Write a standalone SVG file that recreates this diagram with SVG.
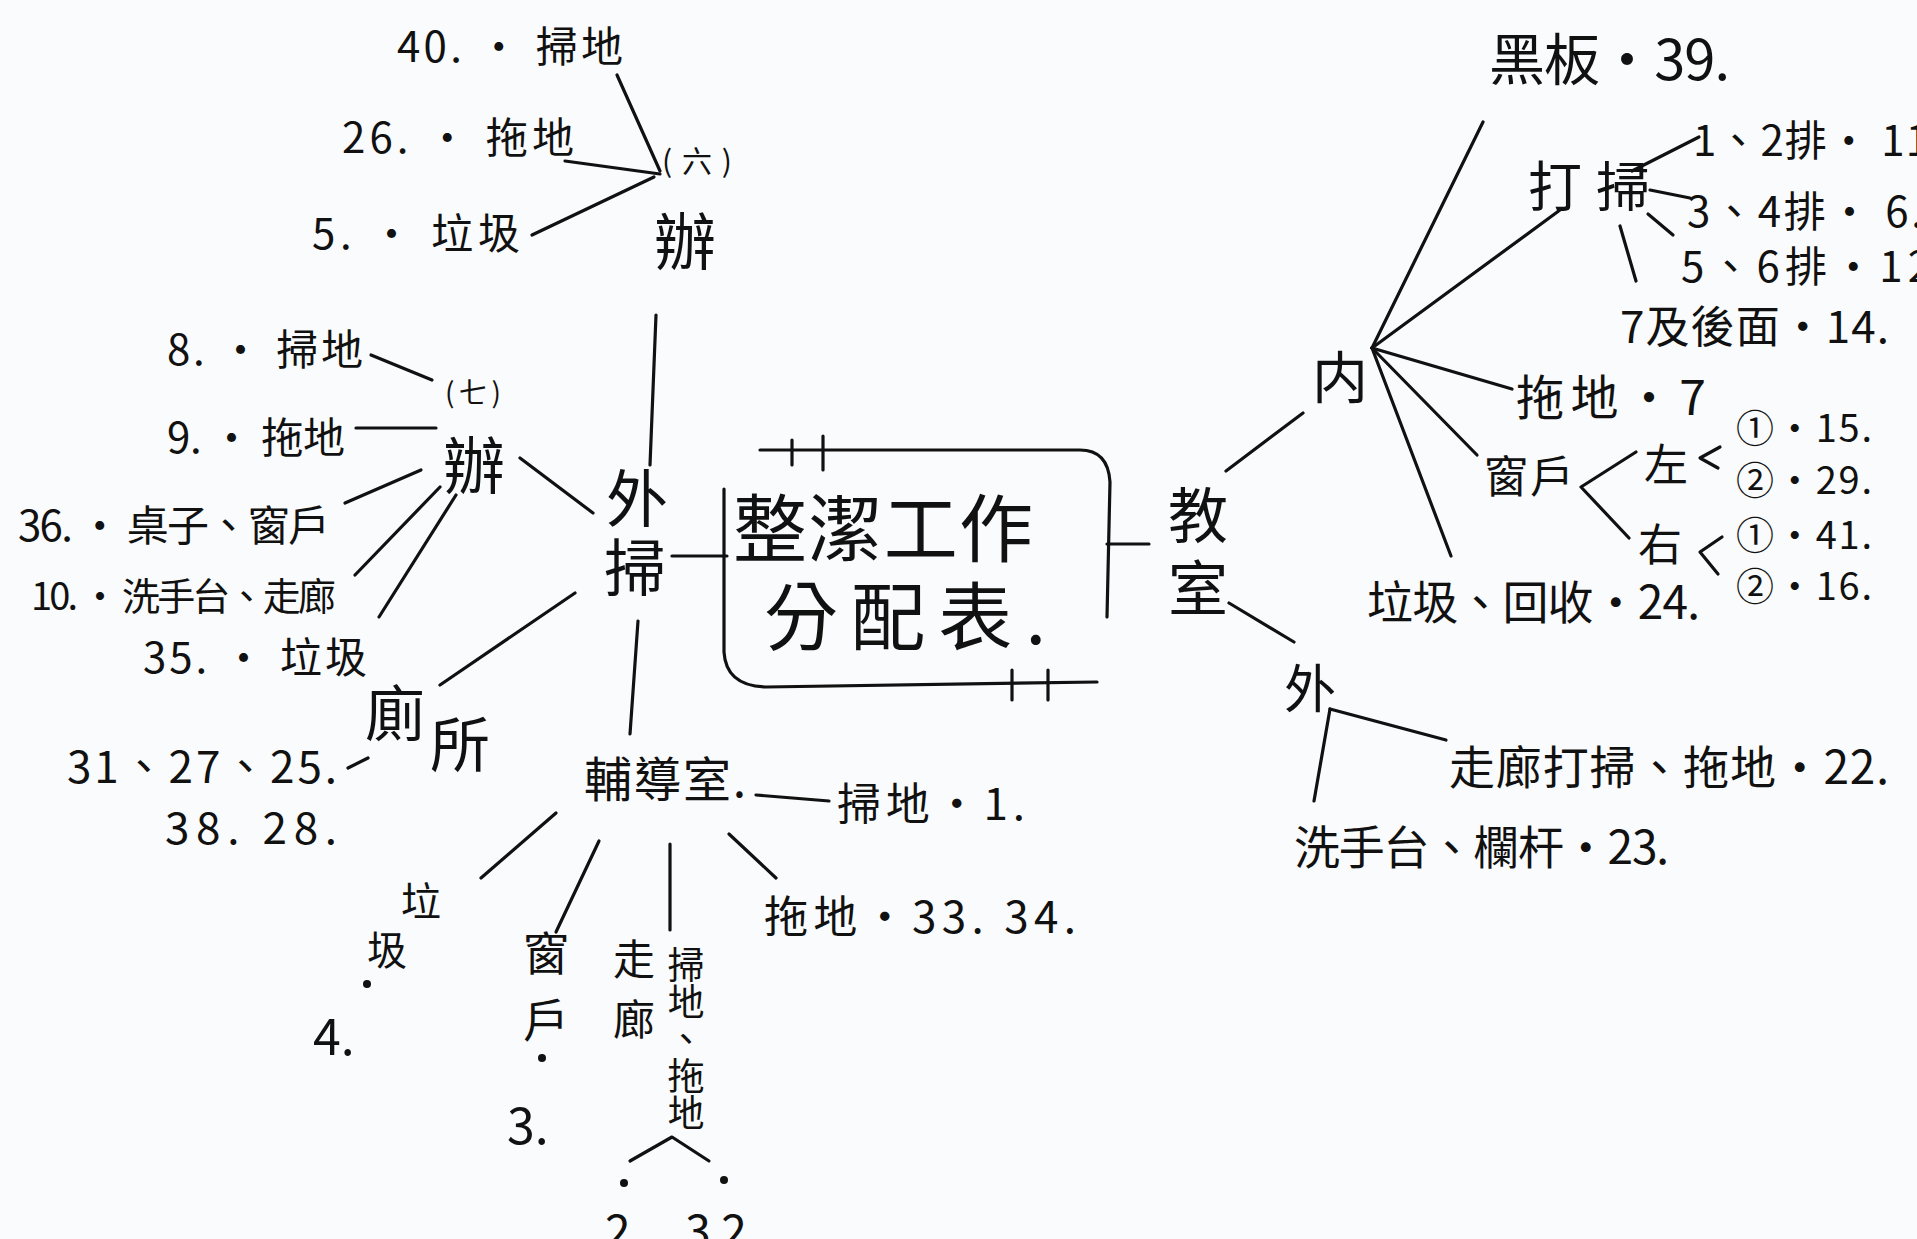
<svg xmlns="http://www.w3.org/2000/svg" width="1917" height="1239" viewBox="0 0 1917 1239">
<style>
text{font-family:"Noto Sans CJK TC","Liberation Sans",sans-serif;fill:#111;dominant-baseline:central}
text.v{writing-mode:vertical-rl;dominant-baseline:auto}
.c line,.c polyline,.c path{stroke:#111;stroke-width:3.2;fill:none;stroke-linecap:round;stroke-linejoin:round}
.s{font-size:42px}
.m{font-size:48px}
.l{font-size:62px}
.dot{fill:#111}
</style>
<rect width="1917" height="1239" fill="#fafbfc"/>
<g class="c" id="connectors">
<line x1="617" y1="75" x2="660" y2="171"/>
<line x1="565" y1="161" x2="660" y2="174"/>
<line x1="532" y1="235" x2="654" y2="177"/>
<line x1="656" y1="315" x2="650" y2="465"/>
<line x1="371" y1="355" x2="432" y2="380"/>
<line x1="356" y1="428" x2="436" y2="428"/>
<line x1="345" y1="503" x2="421" y2="470"/>
<line x1="355" y1="575" x2="440" y2="487"/>
<line x1="379" y1="617" x2="456" y2="495"/>
<line x1="520" y1="458" x2="593" y2="513"/>
<line x1="672" y1="556" x2="727" y2="556"/>
<line x1="575" y1="593" x2="440" y2="685"/>
<line x1="348" y1="768" x2="368" y2="758"/>
<line x1="638" y1="621" x2="630" y2="734"/>
<line x1="756" y1="795" x2="829" y2="801"/>
<line x1="556" y1="813" x2="481" y2="878"/>
<line x1="599" y1="841" x2="556" y2="932"/>
<line x1="670" y1="844" x2="670" y2="930"/>
<line x1="729" y1="834" x2="776" y2="878"/>
<polyline points="630,1161 672,1137 709,1161"/>
<path d="M760,450 L1080,450 Q1108,450 1110,482 L1107,617"/>
<line x1="792" y1="440" x2="792" y2="465"/>
<line x1="823" y1="436" x2="823" y2="470"/>
<path d="M724,489 L724,652 Q726,686 766,687 L1097,682"/>
<line x1="1012" y1="670" x2="1012" y2="700"/>
<line x1="1048" y1="670" x2="1048" y2="700"/>
<line x1="1107" y1="544" x2="1149" y2="544"/>
<line x1="1226" y1="471" x2="1303" y2="413"/>
<line x1="1372" y1="348" x2="1483" y2="122"/>
<line x1="1372" y1="348" x2="1560" y2="210"/>
<line x1="1372" y1="348" x2="1512" y2="389"/>
<line x1="1372" y1="348" x2="1477" y2="455"/>
<line x1="1372" y1="348" x2="1451" y2="556"/>
<line x1="1632" y1="171" x2="1699" y2="137"/>
<line x1="1650" y1="190" x2="1690" y2="198"/>
<line x1="1648" y1="214" x2="1673" y2="235"/>
<line x1="1620" y1="226" x2="1636" y2="281"/>
<polyline points="1636,452 1581,487 1629,538"/>
<polyline points="1720,447 1700,458 1718,468"/>
<polyline points="1722,537 1700,552 1718,574"/>
<line x1="1229" y1="603" x2="1294" y2="642"/>
<line x1="1330" y1="709" x2="1446" y2="740"/>
<line x1="1330" y1="709" x2="1314" y2="801"/>
</g>
<g id="n40"><text class="s" x="397" y="43" textLength="226" lengthAdjust="spacing">40. • 掃地</text></g>
<g id="n26"><text class="s" x="342" y="134" textLength="232" lengthAdjust="spacing">26. • 拖地</text></g>
<g id="n5"><text class="s" x="312" y="230" textLength="208" lengthAdjust="spacing">5. • 垃圾</text></g>
<g id="ban6"><text x="662" y="159" font-size="30" textLength="70" lengthAdjust="spacing">(六)</text><text class="l" x="654" y="238">辦</text></g>
<g id="n8"><text class="s" x="167" y="346" textLength="196" lengthAdjust="spacing">8. • 掃地</text></g>
<g id="n9"><text class="s" x="167" y="434" textLength="178" lengthAdjust="spacing">9. • 拖地</text></g>
<g id="ban7"><text x="445" y="391" font-size="28" textLength="56" lengthAdjust="spacing">(七)</text><text class="l" x="443" y="462">辦</text></g>
<g id="n36"><text class="s" x="18" y="522" textLength="312" lengthAdjust="spacing">36. • 桌子、窗戶</text></g>
<g id="n10"><text x="31" y="593" font-size="38" textLength="305" lengthAdjust="spacing">10. • 洗手台、走廊</text></g>
<g id="n35"><text class="s" x="143" y="654" textLength="224" lengthAdjust="spacing">35. • 垃圾</text></g>
<g id="waisao"><text x="606" y="495" font-size="62">外</text><text x="604" y="564" font-size="62">掃</text></g>
<g id="cesuo"><text x="365" y="709" font-size="60">廁</text><text x="430" y="740" font-size="60">所</text></g>
<g id="cesuo-num"><text x="67" y="764" font-size="44" textLength="270" lengthAdjust="spacing">31、27、25.</text><text x="165" y="825" font-size="44" textLength="172" lengthAdjust="spacing">38. 28.</text></g>
<g id="title"><text x="733" y="523" font-size="74" textLength="300" lengthAdjust="spacing">整潔工作</text><text x="764" y="611" font-size="74" textLength="282" lengthAdjust="spacing">分配表.</text></g>
<g id="fudao"><text x="584" y="776" font-size="48" textLength="162" lengthAdjust="spacing">輔導室.</text></g>
<g id="f1"><text x="837" y="801" font-size="44" textLength="188" lengthAdjust="spacing">掃地・1.</text></g>
<g id="f4"><text x="401" y="899" font-size="40">垃</text><text x="367" y="948" font-size="40">圾</text><circle class="dot" cx="367" cy="984" r="4"/><text x="313" y="1033" font-size="50">4.</text></g>
<g id="f3"><text x="523" y="950" font-size="46">窗</text><text x="523" y="1017" font-size="46">戶</text><circle class="dot" cx="542" cy="1058" r="4"/><text x="507" y="1122" font-size="50">3.</text></g>
<g id="f2"><text class="v" x="634" y="938" font-size="42" letter-spacing="18">走廊</text><text class="v" x="686" y="946" font-size="37">掃地、拖地</text><circle class="dot" cx="624" cy="1183" r="4"/><circle class="dot" cx="724" cy="1180" r="4"/><text x="605" y="1228" font-size="46" textLength="165" lengthAdjust="spacing">2.  32.</text></g>
<g id="f33"><text x="764" y="914" font-size="44" textLength="312" lengthAdjust="spacing">拖地・33. 34.</text></g>
<g id="jiaoshi"><text x="1168" y="511" font-size="60">教</text><text x="1168" y="584" font-size="60">室</text></g>
<g id="nei"><text x="1312" y="373" font-size="56">内</text></g>
<g id="r39"><text x="1489" y="55" font-size="56" textLength="241" lengthAdjust="spacing">黑板・39.</text></g>
<g id="dasao"><text x="1528" y="183" font-size="54" textLength="122" lengthAdjust="spacing">打掃</text></g>
<g id="r11"><text class="s" x="1693" y="137" textLength="236" lengthAdjust="spacing">1、2排・ 11</text></g>
<g id="r6"><text class="s" x="1687" y="208" textLength="236" lengthAdjust="spacing">3、4排・ 6.</text></g>
<g id="r12"><text class="s" x="1681" y="263" textLength="250" lengthAdjust="spacing">5、6排・12</text></g>
<g id="r14"><text x="1620" y="324" font-size="44" textLength="269" lengthAdjust="spacing">7及後面・14.</text></g>
<g id="r7"><text class="m" x="1516" y="394" textLength="190" lengthAdjust="spacing">拖地・7</text></g>
<g id="chuanghu"><text x="1484" y="474" font-size="44" textLength="90" lengthAdjust="spacing">窗戶</text></g>
<g id="zuo"><text x="1644" y="462" font-size="44">左</text></g>
<g id="you"><text x="1638" y="542" font-size="44">右</text></g>
<g id="r15"><text x="1736" y="425" font-size="38" textLength="136" lengthAdjust="spacing">①・15.</text></g>
<g id="r29"><text x="1736" y="477" font-size="38" textLength="136" lengthAdjust="spacing">②・29.</text></g>
<g id="r41"><text x="1736" y="532" font-size="38" textLength="136" lengthAdjust="spacing">①・41.</text></g>
<g id="r16"><text x="1736" y="583" font-size="38" textLength="136" lengthAdjust="spacing">②・16.</text></g>
<g id="r24"><text x="1367" y="599" font-size="46" textLength="333" lengthAdjust="spacing">垃圾、回收・24.</text></g>
<g id="wai"><text x="1284" y="685" font-size="52">外</text></g>
<g id="r22"><text x="1449" y="764" font-size="46" textLength="440" lengthAdjust="spacing">走廊打掃、拖地・22.</text></g>
<g id="r23"><text x="1294" y="844" font-size="46" textLength="375" lengthAdjust="spacing">洗手台、欄杆・23.</text></g>
</svg>
